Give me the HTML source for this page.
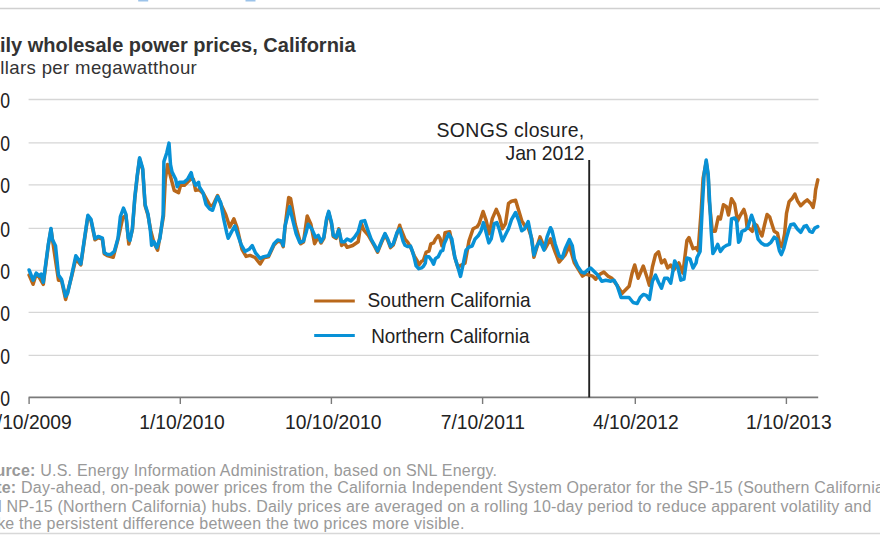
<!DOCTYPE html>
<html><head><meta charset="utf-8"><style>
html,body{margin:0;padding:0;background:#fff;width:880px;height:542px;overflow:hidden}
svg{display:block;font-family:"Liberation Sans",sans-serif}
</style></head><body>
<svg width="880" height="542" viewBox="0 0 880 542">
<rect x="138.2" y="0" width="10" height="1.5" fill="#9cc3ea"/>
<rect x="245.5" y="0" width="10" height="1.5" fill="#9cc3ea"/>
<line x1="0" y1="8.5" x2="880" y2="8.5" stroke="#d0d0d0" stroke-width="1.5"/>
<text x="-25.7" y="52" font-weight="bold" font-size="20" fill="#333">Daily wholesale power prices, California</text>
<text x="-21.1" y="74.1" font-size="18.6" letter-spacing="0.35" fill="#333">dollars per megawatthour</text>
<line x1="28.6" y1="99.5" x2="818.5" y2="99.5" stroke="#d6d6d6" stroke-width="1.3"/>
<line x1="28.6" y1="142.8" x2="818.5" y2="142.8" stroke="#d6d6d6" stroke-width="1.3"/>
<line x1="28.6" y1="184.9" x2="818.5" y2="184.9" stroke="#d6d6d6" stroke-width="1.3"/>
<line x1="28.6" y1="228.3" x2="818.5" y2="228.3" stroke="#d6d6d6" stroke-width="1.3"/>
<line x1="28.6" y1="270.4" x2="818.5" y2="270.4" stroke="#d6d6d6" stroke-width="1.3"/>
<line x1="28.6" y1="312.4" x2="818.5" y2="312.4" stroke="#d6d6d6" stroke-width="1.3"/>
<line x1="28.6" y1="355.4" x2="818.5" y2="355.4" stroke="#d6d6d6" stroke-width="1.3"/>
<text transform="translate(5.2,107.8) scale(0.8,1)" font-size="22" fill="#222" text-anchor="middle">0</text>
<text transform="translate(5.2,151.1) scale(0.8,1)" font-size="22" fill="#222" text-anchor="middle">0</text>
<text transform="translate(5.2,193.2) scale(0.8,1)" font-size="22" fill="#222" text-anchor="middle">0</text>
<text transform="translate(5.2,236.6) scale(0.8,1)" font-size="22" fill="#222" text-anchor="middle">0</text>
<text transform="translate(5.2,278.7) scale(0.8,1)" font-size="22" fill="#222" text-anchor="middle">0</text>
<text transform="translate(5.2,320.7) scale(0.8,1)" font-size="22" fill="#222" text-anchor="middle">0</text>
<text transform="translate(5.2,363.7) scale(0.8,1)" font-size="22" fill="#222" text-anchor="middle">0</text>
<text transform="translate(5.2,405.7) scale(0.8,1)" font-size="22" fill="#222" text-anchor="middle">0</text>
<line x1="28.6" y1="397.4" x2="818.2" y2="397.4" stroke="#7a7a7a" stroke-width="1.6"/>
<line x1="29.1" y1="397.4" x2="29.1" y2="404" stroke="#7a7a7a" stroke-width="1.4"/>
<text transform="translate(28.9,429.4) scale(0.94,1)" font-size="20.5" fill="#222" text-anchor="middle">4/10/2009</text>
<line x1="180.3" y1="397.4" x2="180.3" y2="404" stroke="#7a7a7a" stroke-width="1.4"/>
<text transform="translate(182.0,429.4) scale(0.94,1)" font-size="20.5" fill="#222" text-anchor="middle">1/10/2010</text>
<line x1="331.4" y1="397.4" x2="331.4" y2="404" stroke="#7a7a7a" stroke-width="1.4"/>
<text transform="translate(333.2,429.4) scale(0.94,1)" font-size="20.5" fill="#222" text-anchor="middle">10/10/2010</text>
<line x1="482.6" y1="397.4" x2="482.6" y2="404" stroke="#7a7a7a" stroke-width="1.4"/>
<text transform="translate(482.8,429.4) scale(0.94,1)" font-size="20.5" fill="#222" text-anchor="middle">7/10/2011</text>
<line x1="635.3" y1="397.4" x2="635.3" y2="404" stroke="#7a7a7a" stroke-width="1.4"/>
<text transform="translate(635.85,429.4) scale(0.94,1)" font-size="20.5" fill="#222" text-anchor="middle">4/10/2012</text>
<line x1="786.4" y1="397.4" x2="786.4" y2="404" stroke="#7a7a7a" stroke-width="1.4"/>
<text transform="translate(788.9,429.4) scale(0.94,1)" font-size="20.5" fill="#222" text-anchor="middle">1/10/2013</text>
<line x1="589.2" y1="160" x2="589.2" y2="397.4" stroke="#222" stroke-width="1.9"/>
<text transform="translate(436.6,137.3) scale(0.95,1)" font-size="20.5" letter-spacing="0.3" fill="#222">SONGS closure,</text>
<text transform="translate(505.6,159.6) scale(0.95,1)" font-size="20.5" letter-spacing="-0.15" fill="#222">Jan 2012</text>
<path d="M29.1,275.1 L33.1,284.3 L36.2,274.3 L39.2,277.3 L43.3,284.3 L48.4,244.9 L51.0,229.6 L54.4,252.8 L58.5,280.2 L61.5,280.4 L65.6,299.5 L71.7,276.3 L75.8,258.9 L80.8,265.0 L83.9,243.8 L87.9,216.4 L91.0,220.5 L95.0,239.8 L98.1,237.7 L100.0,238.2 L102.4,239.3 L104.3,253.7 L107.2,255.6 L113.2,257.3 L118.0,239.3 L122.8,217.7 L125.9,215.3 L128.8,244.1 L132.4,229.7 L134.8,198.6 L137.2,177.0 L139.6,159.0 L142.7,169.8 L145.1,205.7 L148.0,215.3 L150.8,230.9 L154.0,242.9 L157.6,250.1 L163.5,216.0 L165.3,179.3 L167.6,164.5 L170.5,176.4 L174.2,190.4 L178.6,192.6 L180.8,184.5 L184.5,185.2 L190.5,179.3 L193.4,179.3 L195.6,190.4 L199.3,189.7 L203.7,194.1 L209.7,205.2 L212.6,205.9 L217.6,195.5 L220.7,203.8 L225.8,214.8 L229.8,227.0 L233.9,218.9 L236.9,227.0 L242.0,249.3 L246.1,256.4 L250.1,255.4 L255.0,257.5 L260.1,264.0 L263.8,257.8 L268.5,256.8 L274.0,244.9 L277.7,241.2 L281.4,242.1 L283.2,246.7 L285.0,227.3 L288.7,197.5 L290.6,198.5 L295.2,224.3 L300.7,243.7 L303.5,242.1 L307.2,216.0 L310.9,224.3 L314.6,243.7 L318.3,236.6 L321.0,243.0 L323.8,238.4 L326.6,219.9 L328.7,212.6 L331.5,223.6 L333.3,236.6 L336.1,238.4 L338.8,228.9 L341.6,245.5 L344.4,243.0 L347.1,247.3 L352.7,245.5 L358.2,241.8 L361.0,222.7 L363.7,229.8 L368.4,235.4 L371.1,240.2 L374.8,246.7 L377.6,252.2 L381.3,243.0 L385.0,234.7 L387.7,240.2 L390.5,247.6 L393.3,244.9 L397.0,233.8 L399.7,225.2 L400.0,226.7 L405.0,239.2 L407.8,242.4 L410.5,247.0 L414.2,255.8 L417.0,260.4 L418.8,265.0 L421.6,261.3 L423.4,260.4 L426.2,252.1 L429.0,251.2 L430.8,243.8 L433.6,242.9 L435.4,239.2 L438.2,235.5 L440.0,238.3 L441.9,245.7 L443.7,242.0 L445.0,232.8 L449.7,231.8 L454.8,257.2 L457.9,267.3 L460.9,265.3 L465.0,263.2 L469.0,240.9 L473.1,228.7 L477.2,226.7 L479.1,223.7 L483.1,211.5 L486.2,220.6 L489.2,233.8 L492.3,218.6 L496.3,209.4 L499.4,216.5 L502.4,228.7 L505.5,223.7 L508.5,203.4 L511.5,201.3 L515.6,200.3 L518.7,210.5 L521.7,220.6 L524.7,225.7 L528.2,227.7 L531.9,238.9 L533.9,257.2 L540.0,236.9 L545.0,249.0 L550.5,238.9 L555.1,251.8 L559.1,262.0 L565.2,254.8 L569.3,245.7 L574.4,262.9 L582.5,276.1 L585.5,274.1 L592.6,276.1 L595.7,279.2 L598.7,275.1 L603.8,272.1 L607.9,276.1 L611.9,278.2 L617.0,285.3 L622.1,293.4 L626.1,289.3 L629.1,286.3 L632.1,273.1 L634.7,265.0 L638.2,278.2 L643.3,266.0 L647.3,278.2 L649.4,285.3 L652.4,267.0 L655.5,254.8 L658.5,251.8 L661.5,262.9 L664.6,259.9 L667.6,268.0 L670.7,265.0 L673.7,270.0 L678.8,262.9 L682.9,273.1 L686.9,240.6 L689.0,237.6 L693.0,248.7 L696.1,247.7 L698.1,250.8 L701.1,212.2 L703.1,178.4 L706.2,162.0 L708.2,176.0 L709.2,200.7 L712.3,231.2 L715.3,231.2 L718.3,217.0 L720.4,219.0 L723.4,204.8 L726.5,206.8 L728.5,215.0 L731.5,198.7 L734.6,203.8 L737.6,221.0 L740.0,215.8 L741.9,212.6 L743.9,209.4 L745.8,215.8 L747.1,227.5 L749.7,228.8 L752.3,231.3 L754.2,223.6 L756.8,225.5 L759.4,231.3 L762.0,235.9 L764.5,224.9 L767.1,214.5 L769.7,217.1 L771.7,223.6 L774.2,231.3 L777.5,233.3 L780.0,245.6 L782.0,246.8 L784.6,233.9 L786.5,213.3 L789.1,201.6 L792.4,198.2 L794.9,194.1 L797.4,200.7 L800.7,205.7 L804.0,202.4 L807.3,199.9 L810.6,203.2 L813.1,207.4 L814.8,198.2 L815.6,189.9 L817.8,179.9" fill="none" stroke="#b9681b" stroke-width="3.5" stroke-linejoin="round" stroke-linecap="round"/>
<path d="M29.1,270.0 L33.1,280.2 L36.2,273.1 L39.2,276.1 L41.2,274.1 L43.3,282.2 L45.3,267.0 L48.4,243.7 L51.0,228.4 L52.4,239.6 L55.5,245.7 L58.5,275.1 L61.5,279.2 L65.6,296.4 L67.6,293.4 L71.7,275.1 L75.8,255.8 L78.8,259.9 L80.8,264.0 L83.9,242.6 L87.9,215.2 L91.0,219.3 L95.0,238.6 L98.1,236.5 L100.0,237.0 L102.4,238.1 L104.3,252.5 L107.2,254.4 L110.8,254.4 L114.4,251.3 L118.0,238.1 L120.4,216.5 L123.5,208.1 L125.9,214.1 L128.3,238.1 L130.0,240.5 L132.4,228.5 L134.8,197.4 L137.2,175.8 L139.6,157.8 L142.7,168.6 L145.1,204.5 L148.0,214.1 L150.4,230.9 L151.6,245.3 L154.0,241.7 L156.8,247.7 L160.0,238.1 L163.1,214.8 L163.9,161.6 L166.8,152.7 L169.0,143.1 L170.5,164.5 L172.0,171.9 L175.7,179.3 L177.2,186.7 L179.4,182.3 L183.8,182.3 L187.5,179.3 L191.2,172.7 L192.7,179.3 L195.6,185.2 L198.6,182.3 L199.3,186.7 L203.0,192.6 L206.0,204.4 L209.7,208.9 L212.6,210.3 L215.0,203.0 L217.6,196.5 L220.7,202.6 L223.7,218.9 L226.8,233.1 L228.2,238.2 L231.9,231.1 L234.9,226.0 L237.9,235.1 L241.0,244.3 L245.0,251.4 L249.1,249.3 L252.2,245.5 L255.5,252.9 L260.1,258.4 L263.8,256.6 L268.5,255.6 L274.0,243.7 L277.7,240.0 L281.4,240.9 L283.2,245.5 L285.0,226.1 L287.8,215.1 L289.7,206.8 L292.4,218.7 L296.1,233.5 L299.8,242.7 L303.5,240.9 L306.3,231.7 L308.1,224.3 L311.8,228.9 L315.5,237.2 L318.3,235.4 L321.0,241.8 L323.8,237.2 L326.6,218.7 L328.7,211.4 L331.5,222.4 L333.3,235.4 L336.1,237.2 L338.8,229.8 L341.6,241.8 L344.4,241.8 L347.1,239.0 L350.8,240.9 L354.5,237.2 L358.2,231.7 L361.0,221.5 L364.7,220.6 L367.4,228.9 L371.1,239.0 L374.8,245.5 L377.6,251.0 L381.3,241.8 L385.0,233.5 L387.7,239.0 L390.5,246.4 L393.3,243.7 L397.0,232.6 L399.7,228.9 L403.0,240.9 L405.0,245.2 L407.8,246.6 L410.5,246.1 L412.4,251.2 L414.2,257.6 L416.1,265.9 L418.8,268.7 L421.6,267.8 L423.4,266.4 L425.3,263.2 L426.2,256.7 L429.0,256.7 L431.7,260.4 L433.6,264.1 L435.4,258.6 L438.2,256.7 L440.9,251.2 L442.8,250.3 L444.2,243.8 L448.7,233.8 L451.8,238.9 L454.8,257.2 L457.9,267.3 L460.5,276.4 L462.9,265.3 L466.0,250.1 L469.0,247.0 L472.1,246.0 L475.1,238.9 L478.2,235.8 L481.1,230.8 L483.5,222.6 L486.2,232.8 L488.8,242.9 L491.2,238.9 L494.3,223.7 L496.9,222.6 L499.4,229.7 L502.4,240.9 L505.5,234.8 L508.5,228.7 L511.5,219.6 L515.6,212.5 L518.7,220.6 L521.7,230.8 L524.7,228.7 L528.2,221.6 L530.8,234.8 L533.9,255.1 L536.9,246.0 L540.0,240.9 L544.0,250.1 L547.1,236.9 L550.5,227.7 L552.0,230.5 L555.1,243.7 L559.1,255.8 L562.2,257.9 L565.2,248.7 L569.3,239.6 L572.3,245.7 L574.4,258.9 L577.4,266.0 L581.5,272.1 L584.5,273.1 L587.6,270.0 L590.6,268.0 L593.7,271.1 L597.7,275.1 L601.8,281.2 L605.8,280.2 L610.9,281.2 L614.0,280.2 L617.0,285.3 L621.1,297.5 L626.1,297.5 L629.1,297.5 L633.1,302.5 L637.2,303.6 L640.2,297.5 L643.3,294.4 L646.3,295.4 L649.4,299.5 L652.4,281.2 L655.5,275.1 L658.5,282.2 L661.5,288.3 L664.6,278.2 L667.6,278.2 L670.7,283.2 L674.7,260.9 L677.8,267.0 L680.8,280.2 L683.9,279.2 L686.9,257.9 L690.0,258.9 L693.0,268.0 L696.1,262.9 L697.0,257.6 L700.1,251.5 L702.1,210.9 L704.1,174.4 L706.2,160.1 L708.2,174.4 L709.6,200.7 L711.2,231.2 L712.9,253.5 L715.3,249.5 L717.7,244.4 L720.4,251.5 L723.4,247.4 L726.5,245.4 L729.5,244.4 L731.5,219.0 L734.6,218.0 L736.6,221.0 L738.6,242.3 L740.0,240.4 L741.9,231.3 L745.2,230.0 L747.8,227.5 L749.7,221.0 L751.6,215.2 L753.6,221.0 L755.5,227.5 L758.1,239.1 L761.3,243.0 L764.5,244.9 L767.8,244.9 L771.0,242.3 L774.2,237.2 L776.8,239.1 L779.4,250.7 L781.3,254.6 L783.9,248.1 L786.5,237.8 L789.1,228.8 L790.7,224.8 L794.0,224.0 L797.4,229.0 L800.7,232.3 L804.0,226.5 L806.5,225.6 L809.8,231.4 L812.3,232.3 L814.8,228.1 L817.8,226.5" fill="none" stroke="#0891d6" stroke-width="3.5" stroke-linejoin="round" stroke-linecap="round"/>
<line x1="314.2" y1="301" x2="354.8" y2="301" stroke="#b9681b" stroke-width="3"/>
<line x1="314.2" y1="335.4" x2="354.8" y2="335.4" stroke="#0891d6" stroke-width="3"/>
<text transform="translate(367.6,307.1) scale(0.93,1)" font-size="20.5" fill="#222">Southern California</text>
<text transform="translate(371.2,342.6) scale(0.92,1)" font-size="20.5" fill="#222">Northern California</text>
<text x="-25.5" y="475.8" font-size="16" letter-spacing="0.22" fill="#999"><tspan font-weight="bold">Source:</tspan> U.S. Energy Information Administration, based on SNL Energy.</text>
<text x="-25.5" y="493.4" font-size="16" letter-spacing="0.205" fill="#999"><tspan font-weight="bold">Note:</tspan> Day-ahead, on-peak power prices from the California Independent System Operator for the SP-15 (Southern California)</text>
<text x="-25.5" y="511.6" font-size="16" letter-spacing="0.205" fill="#999">and NP-15 (Northern California) hubs. Daily prices are averaged on a rolling 10-day period to reduce apparent volatility and</text>
<text x="-25.5" y="529.1" font-size="16" letter-spacing="0.205" fill="#999">make the persistent difference between the two prices more visible.</text>
<line x1="0" y1="533.5" x2="880" y2="533.5" stroke="#d8d8d8" stroke-width="1.5"/>
</svg></body></html>
